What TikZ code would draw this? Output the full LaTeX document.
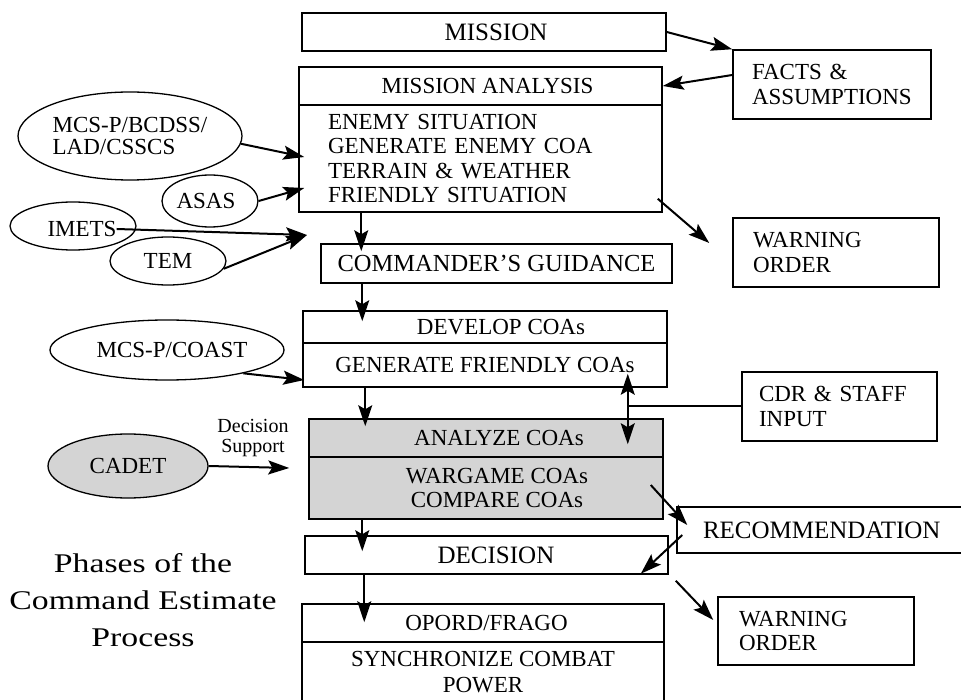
\documentclass[tikz,border=0pt]{standalone}
\usepackage{fontspec}
\setmainfont{Liberation Serif}
\newfontfamily\widefont[FakeStretch=1.25]{Liberation Serif}
\usetikzlibrary{shapes.geometric,arrows.meta,calc}
\begin{document}
\begin{tikzpicture}[x=1pt,y=-1pt,
  box/.style={draw, line width=1.5pt, inner sep=0pt, font=\fontsize{23}{24.5}\selectfont},
  shaded/.style={fill=black!17},
  ell/.style={draw, ellipse, line width=1.3pt, inner sep=0pt, font=\fontsize{23}{22}\selectfont},
  arr/.style={line width=2pt, -{Stealth[length=21pt,width=14pt,inset=4pt]}},
  darr/.style={line width=2pt, {Stealth[length=21pt,width=14pt,inset=4pt]}-{Stealth[length=21pt,width=14pt,inset=4pt]}},
  plain/.style={line width=2pt}]
\fill[white] (0,0) rectangle (961,700);
\clip (0,0) rectangle (961,700);
% main column
\node[box, minimum width=364pt, minimum height=38pt, font=\fontsize{25}{26}\selectfont] (mission) at (484,32) {\hspace*{24pt}MISSION};
\node[box, minimum width=363pt, minimum height=38pt] (maHead) at (480.5,86) {\hspace*{14pt}MISSION ANALYSIS};
\node[box, minimum width=363pt, minimum height=107pt, text width=305pt, align=left] (maBody) at (480.5,158.5) {ENEMY SITUATION\\GENERATE ENEMY COA\\TERRAIN \& WEATHER\\FRIENDLY SITUATION};
\node[box, minimum width=351pt, minimum height=39pt, font=\fontsize{24.5}{26}\selectfont] (cmdr) at (496.5,263.5) {COMMANDER’S GUIDANCE};
\node[box, minimum width=364pt, minimum height=32pt] (devHead) at (485,327) {\hspace*{32pt}DEVELOP COAs};
\node[box, minimum width=364pt, minimum height=44pt] (devBody) at (485,365) {GENERATE FRIENDLY COAs};
\node[box, shaded, minimum width=354pt, minimum height=38pt] (anaHead) at (486,438) {\hspace*{26pt}ANALYZE COAs};
\node[box, shaded, minimum width=354pt, minimum height=62pt, align=center] (anaBody) at (486,488) {\hspace*{22pt}WARGAME COAs\\\hspace*{22pt}COMPARE COAs};
\node[box, minimum width=363pt, minimum height=38pt, font=\fontsize{25}{26}\selectfont] (decision) at (486.5,555) {\hspace*{19pt}DECISION};
\node[box, minimum width=362pt, minimum height=38pt] (opHead) at (483,623) {\hspace*{7pt}OPORD/FRAGO};
\node[box, minimum width=362pt, minimum height=60pt, align=center, font=\fontsize{23}{26}\selectfont] (opBody) at (483,672) {SYNCHRONIZE COMBAT\\POWER};
% right boxes
\node[box, minimum width=198pt, minimum height=69pt, text width=160pt, align=left] (facts) at (832,84.5) {FACTS \&\\ASSUMPTIONS};
\node[box, minimum width=206pt, minimum height=69pt, text width=166pt, align=left] (warn1) at (836,252.5) {WARNING\\ORDER};
\node[box, minimum width=195pt, minimum height=69pt, text width=161pt, align=left] (cdr) at (839.5,406.5) {CDR \& STAFF\\INPUT};
\node[box, minimum width=302pt, minimum height=46pt, text width=250pt, align=left, font=\fontsize{25}{26}\selectfont] (recom) at (828,530) {RECOMMENDATION};
\node[box, minimum width=196pt, minimum height=68pt, text width=154pt, align=left] (warn2) at (816,631) {WARNING\\ORDER};
% ellipses
\node[ell, minimum width=224pt, minimum height=88pt, align=left] (e1) at (130,136) {MCS-P/BCDSS/\\LAD/CSSCS};
\node[ell, minimum width=96pt, minimum height=52pt] (asas) at (210,201) {\hspace*{-8pt}ASAS};
\node[ell, minimum width=126pt, minimum height=48pt] (imets) at (73,226) {};
\node[inner sep=0pt, font=\fontsize{23}{22}\selectfont] (imetsT) at (82,229) {IMETS};
\node[ell, minimum width=116pt, minimum height=48pt] (tem) at (168,261) {TEM};
\node[ell, minimum width=234pt, minimum height=60pt] (coast) at (167,350) {\hspace*{10pt}MCS-P/COAST};
\node[ell, shaded, minimum width=160pt, minimum height=64pt] (cadet) at (128,466) {CADET};
\node[inner sep=0pt, align=center, font=\fontsize{20}{20}\selectfont] (ds) at (253,438) {Decision\\Support};
\node[inner sep=0pt, align=center, font=\widefont\fontsize{27}{37}\selectfont] (title) at (143,600) {Phases of the\\Command Estimate\\Process};
% coordinates
\coordinate (tipA) at (307,235);
\coordinate (tipC) at ($(anaBody.west)+(-19,-20)$);
\coordinate (cdrJ) at ($(devBody.south east)+(-40,18)$);
\coordinate (cdrUp) at ($(devBody.south east)+(-40,-14)$);
\coordinate (cdrDn) at ($(anaHead.north east)+(-36,26)$);
% connectors
\draw[arr] (mission.east) -- (facts.north west);
\draw[arr] ($(facts.west)+(0,-9.5)$) -- (maHead.east);
\draw[arr] (e1.-4) -- ($(maBody.west)+(6,-1.5)$);
\draw[arr] (asas.east) -- ($(maBody.west)+(6,29.5)$);
\draw[arr] (imetsT.east) -- (tipA);
\draw[arr] (tem.-8) -- (tipA);
\draw[arr] ($(maBody.south west)+(63,0)$) -- ($(cmdr.north west)+(41,8)$);
\draw[arr] ($(cmdr.south west)+(42,0)$) -- ($(devHead.north west)+(60,11)$);
\draw[arr] ($(maBody.south east)+(-5,-14)$) -- ($(warn1.west)+(-23,-9.5)$);
\draw[arr] (coast.-17) -- ($(devBody.west)+(2,15)$);
\draw[arr] ($(devBody.south west)+(63,0)$) -- ($(anaHead.north west)+(57,8)$);
\draw[plain] (cdr.west |- cdrJ) -- (cdrJ);
\draw[darr] (cdrUp) -- (cdrDn);
\draw[arr] (cadet.east) -- (tipC);
\draw[arr] ($(anaBody.south west)+(54,0)$) -- ($(decision.north west)+(58,16)$);
\draw[arr] ($(anaBody.east)+(-13,-3)$) -- ($(recom.west)+(11,-5)$);
\draw[arr] ($(recom.west)+(6,5)$) -- ($(decision.south east)+(-28,-1)$);
\draw[arr] ($(decision.south west)+(60,0)$) -- ($(opHead.north west)+(63,19)$);
\draw[arr] ($(decision.south east)+(7,6)$) -- ($(warn2.west)+(-4,-11)$);
\end{tikzpicture}
\end{document}
